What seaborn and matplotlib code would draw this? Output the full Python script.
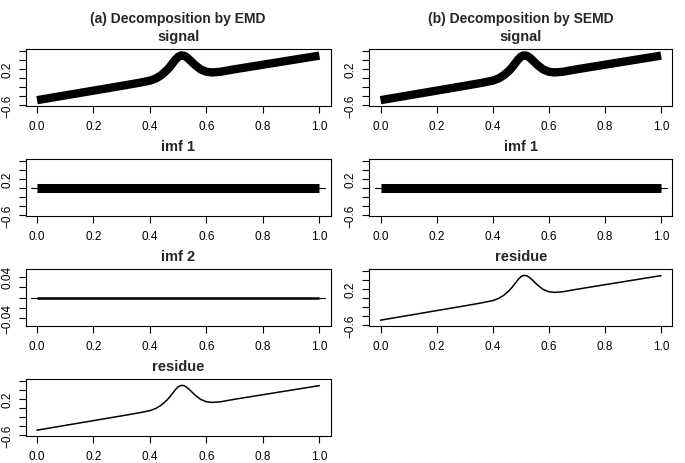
import numpy as np
import pandas as pd
import matplotlib
matplotlib.use("Agg")
import matplotlib.pyplot as plt
import seaborn as sns

sns.set_theme(style="white")
plt.rcParams["font.family"] = ["Liberation Sans", "DejaVu Sans"]

# ---------------- data ----------------
t_res = [0.00, 0.10, 0.20, 0.30, 0.36, 0.40, 0.42, 0.44, 0.46, 0.47, 0.48, 0.49,
         0.50, 0.51, 0.52, 0.53, 0.54, 0.56, 0.58, 0.60, 0.62, 0.65, 0.70, 0.80, 0.90, 1.00]
residue = [-0.49, -0.385, -0.28, -0.175, -0.11, -0.06, -0.015, 0.06, 0.17, 0.24, 0.32, 0.40,
           0.465, 0.495, 0.49, 0.455, 0.40, 0.28, 0.185, 0.135, 0.12, 0.135, 0.19, 0.29, 0.39, 0.49]
imf1_t = [0.0, 1.0]
imf1_center = [0.0, 0.0]     # dense oscillation band around zero
imf2_t = [0.0, 1.0]
imf2_center = [0.0, 0.0]     # tiny oscillation around zero

x_ticks = [0.0, 0.2, 0.4, 0.6, 0.8, 1.0]
x_labels = ["0.0", "0.2", "0.4", "0.6", "0.8", "1.0"]
big_ticks = [-0.6, -0.4, -0.2, 0.0, 0.2, 0.4, 0.6]
big_labels = ["\u22120.6", "", "", "", "0.2", "", ""]
small_ticks = [-0.04, -0.02, 0.0, 0.02, 0.04]
small_labels = ["\u22120.04", "", "", "", "0.04"]

main_titles = ["(a) Decomposition by EMD", "(b) Decomposition by SEMD"]

# ---------------- layout ----------------
W, H = 685, 464
fig = plt.figure(figsize=(W / 100, H / 100), dpi=100)

cols = [(25.7, 330.7), (369.3, 672.3)]
bottoms = [107.3, 217.3, 327.3, 437.3]
BOX_H = 57.5


def make_ax(col, row):
    l, r = cols[col]
    b = bottoms[row]
    return fig.add_axes([l / W, 1 - b / H, (r - l) / W, BOX_H / H])


def style(ax, title, ylim, yticks, ylabels):
    ax.set_xlim(-0.04, 1.04)
    ax.set_ylim(*ylim)
    ax.set_xticks(x_ticks)
    ax.set_xticklabels(x_labels)
    ax.set_yticks(yticks)
    ax.set_yticklabels(ylabels, rotation=90, va="center")
    ax.tick_params(axis="both", direction="out", length=5, width=0.8,
                   labelsize=8.5, colors="black", left=True, bottom=True)
    ax.tick_params(axis="x", pad=5)
    ax.tick_params(axis="y", pad=4)
    for sp in ax.spines.values():
        sp.set_visible(True)
        sp.set_color("black")
        sp.set_linewidth(0.8)
    ax.set_xlabel("")
    ax.set_ylabel("")
    ax.set_title(title, fontsize=10.5, fontweight="bold", pad=6.5)


BIG = (-0.625, 0.64)
SMALL = (-0.055, 0.055)

df_res = pd.DataFrame({"t": t_res, "v": residue})
df_imf1 = pd.DataFrame({"t": imf1_t, "v": imf1_center})
df_imf2 = pd.DataFrame({"t": imf2_t, "v": imf2_center})


def draw_signal(ax):
    sns.lineplot(data=df_res, x="t", y="v", ax=ax, color="black", lw=6.0,
                 solid_capstyle="butt", solid_joinstyle="round", sort=False)
    style(ax, "signal", BIG, big_ticks, big_labels)


def draw_imf1(ax):
    ax.axhline(0, xmin=0.0185, xmax=0.981, color="black", lw=0.8)
    sns.lineplot(data=df_imf1, x="t", y="v", ax=ax, color="black", lw=6.5,
                 solid_capstyle="butt", sort=False)
    style(ax, "imf 1", BIG, big_ticks, big_labels)


def draw_imf2(ax):
    ax.axhline(0, xmin=0.0185, xmax=0.981, color="black", lw=0.8)
    sns.lineplot(data=df_imf2, x="t", y="v", ax=ax, color="black", lw=1.8,
                 solid_capstyle="butt", sort=False)
    style(ax, "imf 2", SMALL, small_ticks, small_labels)


def draw_residue(ax):
    sns.lineplot(data=df_res, x="t", y="v", ax=ax, color="black", lw=1.1, sort=False)
    style(ax, "residue", BIG, big_ticks, big_labels)


# left column: EMD
draw_signal(make_ax(0, 0))
draw_imf1(make_ax(0, 1))
draw_imf2(make_ax(0, 2))
draw_residue(make_ax(0, 3))

# right column: SEMD
draw_signal(make_ax(1, 0))
draw_imf1(make_ax(1, 1))
draw_residue(make_ax(1, 2))

for (l, r), txt in zip(cols, main_titles):
    fig.text((l + r) / 2 / W, 1 - 23.3 / H, txt, ha="center", va="baseline",
             fontsize=10, fontweight="bold")

fig.savefig("out.png", dpi=100, facecolor="white")
